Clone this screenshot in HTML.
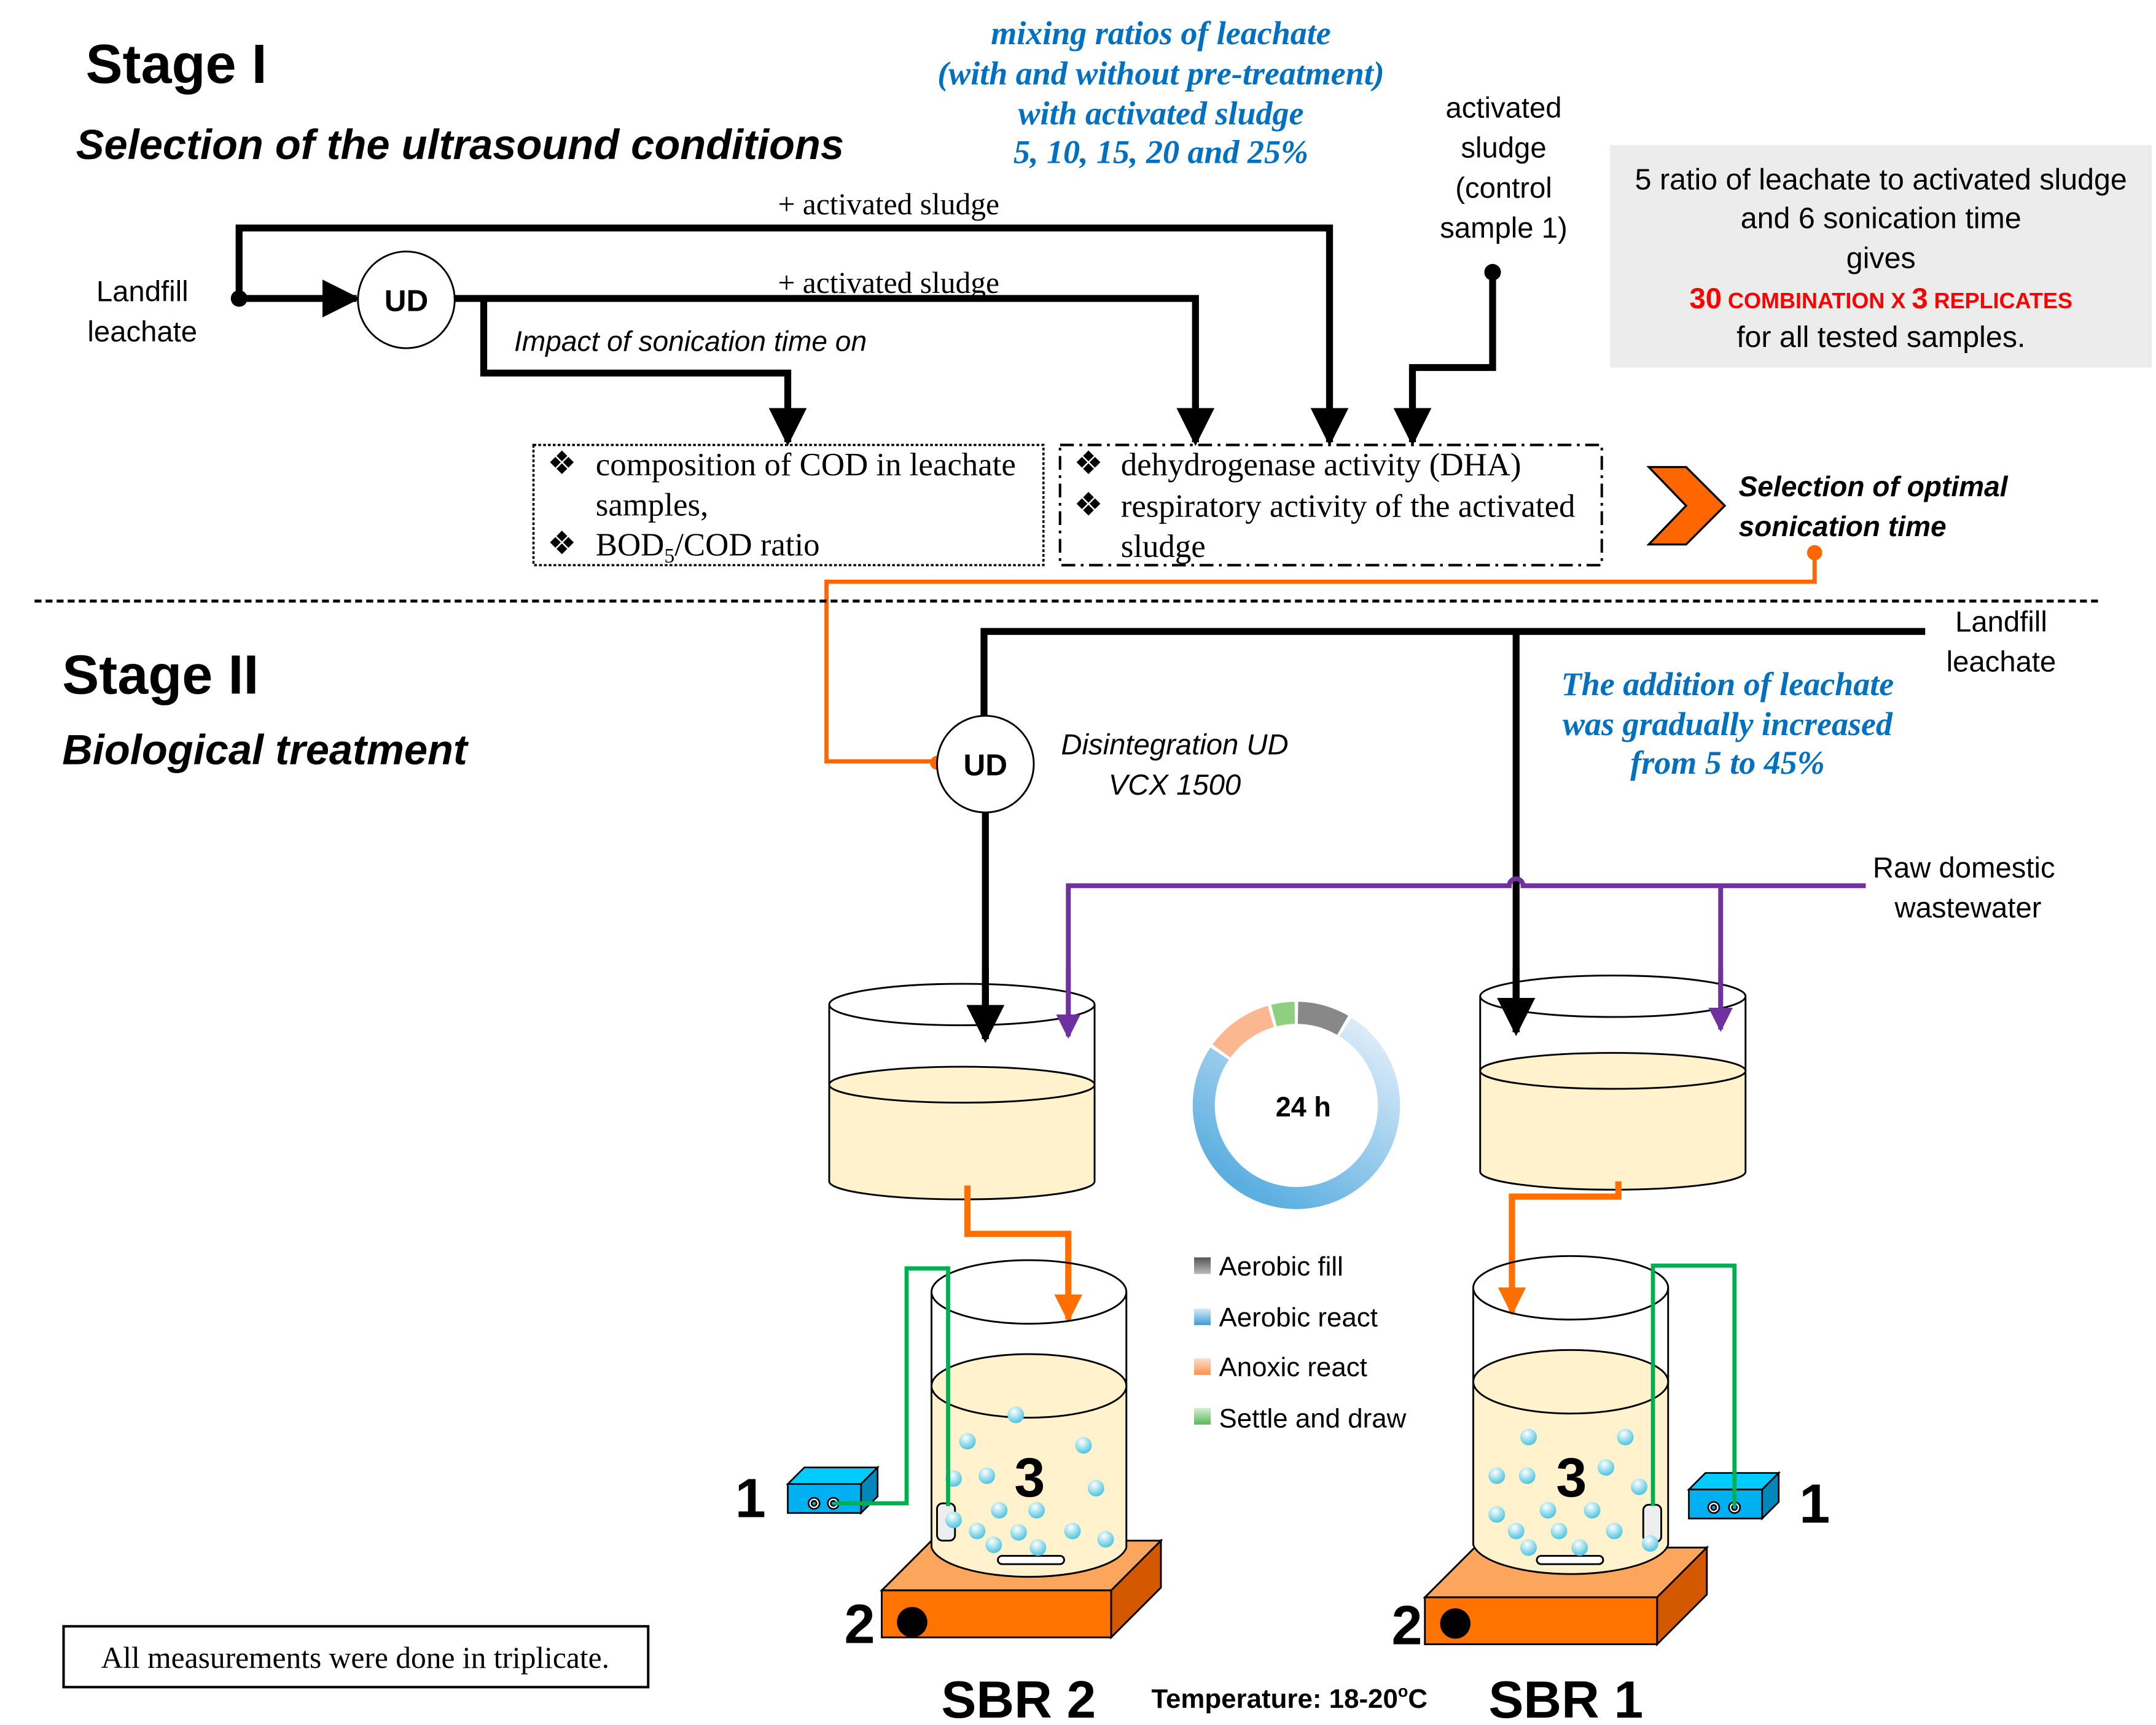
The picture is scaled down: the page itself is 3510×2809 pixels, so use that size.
<!DOCTYPE html>
<html><head><meta charset="utf-8"><style>
html,body{margin:0;padding:0;background:#fff;}
svg{display:block;}
.s{font-family:"Liberation Sans",sans-serif;}
.r{font-family:"Liberation Serif",serif;}
</style></head><body>
<svg width="3510" height="2809" viewBox="0 0 1560 1248.4" xmlns="http://www.w3.org/2000/svg">
<defs>
<marker id="ak" viewBox="0 0 10 10" refX="9" refY="5" markerWidth="5.5" markerHeight="5.5" orient="auto" markerUnits="strokeWidth"><path d="M0,0L10,5L0,10z" fill="#000"/></marker>
<marker id="ap" viewBox="0 0 10 10" refX="9" refY="5" markerWidth="5" markerHeight="5" orient="auto" markerUnits="strokeWidth"><path d="M0,0L10,5L0,10z" fill="#7030a0"/></marker>
<marker id="ao" viewBox="0 0 10 10" refX="9" refY="5" markerWidth="4.5" markerHeight="4.5" orient="auto" markerUnits="strokeWidth"><path d="M0,0L10,5L0,10z" fill="#ff6f00"/></marker>
<radialGradient id="bub" cx="0.4" cy="0.3" r="0.7"><stop offset="0" stop-color="#ffffff"/><stop offset="1" stop-color="#4cc4e0"/></radialGradient>
<linearGradient id="blu" x1="1" y1="0" x2="0.3" y2="1"><stop offset="0" stop-color="#e4f0fa"/><stop offset="1" stop-color="#5aaee0"/></linearGradient>
<linearGradient id="gg" x1="0" y1="0" x2="0" y2="1"><stop offset="0" stop-color="#555"/><stop offset="1" stop-color="#bbb"/></linearGradient>
<linearGradient id="gb" x1="0" y1="0" x2="0" y2="1"><stop offset="0" stop-color="#d8ecf8"/><stop offset="1" stop-color="#3d9ad8"/></linearGradient>
<linearGradient id="go" x1="0" y1="0" x2="0" y2="1"><stop offset="0" stop-color="#fde0cc"/><stop offset="1" stop-color="#f79050"/></linearGradient>
<linearGradient id="ggr" x1="0" y1="0" x2="0" y2="1"><stop offset="0" stop-color="#d6eed0"/><stop offset="1" stop-color="#5ab65a"/></linearGradient>
</defs>

<text x="62" y="60" class="s" font-size="40" font-weight="bold">Stage I</text>
<text x="55" y="115" class="s" font-size="30.5" font-weight="bold" font-style="italic">Selection of the ultrasound conditions</text>

<g class="r" font-size="24" font-style="italic" font-weight="bold" fill="#0070c0" text-anchor="middle">
<text x="840" y="32">mixing ratios of leachate</text>
<text x="840" y="61">(with and without pre-treatment)</text>
<text x="840" y="90">with activated sludge</text>
<text x="840" y="118">5, 10, 15, 20 and 25%</text>
</g>
<g class="s" font-size="21" text-anchor="middle">
<text x="1088" y="85">activated</text>
<text x="1088" y="114">sludge</text>
<text x="1088" y="143">(control</text>
<text x="1088" y="172">sample 1)</text>
</g>
<rect x="1165" y="105" width="392" height="161" fill="#ececec"/>
<g class="s" font-size="21.5" text-anchor="middle">
<text x="1361" y="137">5 ratio of leachate to activated sludge</text>
<text x="1361" y="165">and 6 sonication time</text>
<text x="1361" y="194">gives</text>
<text x="1361" y="223" fill="#ff0000" font-weight="bold"><tspan font-size="21">30</tspan><tspan font-size="16"> COMBINATION X </tspan><tspan font-size="21">3</tspan><tspan font-size="16"> REPLICATES</tspan></text>
<text x="1361" y="251">for all tested samples.</text>
</g>

<g class="s" font-size="21" text-anchor="middle">
<text x="103" y="218">Landfill</text>
<text x="103" y="247">leachate</text>
</g>
<g fill="none" stroke="#000" stroke-width="5">
<path d="M173,216 V165 H962 V320" marker-end="url(#ak)"/>
<path d="M173,216 H258" marker-end="url(#ak)"/>
<path d="M329,216 H865 V320" marker-end="url(#ak)"/>
<path d="M350,216 V270 H570 V320" marker-end="url(#ak)"/>
<path d="M1080,197 V266 H1022 V320" marker-end="url(#ak)"/>
</g>
<circle cx="173" cy="216" r="6"/>
<circle cx="1080" cy="197" r="6"/>
<circle cx="294" cy="217" r="35" fill="#fff" stroke="#000" stroke-width="1.3"/>
<text x="294" y="225" class="s" font-size="22" font-weight="bold" text-anchor="middle">UD</text>
<text x="643" y="155" class="r" font-size="22" text-anchor="middle">+ activated sludge</text>
<text x="643" y="212" class="r" font-size="22" text-anchor="middle">+ activated sludge</text>
<text x="372" y="254" class="s" font-size="20.5" font-style="italic">Impact of sonication time on</text>

<rect x="386" y="322" width="369" height="87" fill="none" stroke="#000" stroke-width="1.6" stroke-dasharray="2,1.5"/>
<rect x="767" y="322" width="392" height="87" fill="none" stroke="#000" stroke-width="1.8" stroke-dasharray="10,4,2,4"/>
<g class="r" font-size="23.5">
<text x="396" y="343">❖</text><text x="431" y="344">composition of COD in leachate</text>
<text x="431" y="373">samples,</text>
<text x="396" y="401">❖</text><text x="431" y="402">BOD<tspan font-size="15" dy="5">5</tspan><tspan dy="-5">/COD ratio</tspan></text>
<text x="777" y="343">❖</text><text x="811" y="344">dehydrogenase activity (DHA)</text>
<text x="777" y="373">❖</text><text x="811" y="374">respiratory activity of the activated</text>
<text x="811" y="403">sludge</text>
</g>

<path d="M1193,338 H1220 L1248,366 L1220,394 H1193 L1220,366 Z" fill="#ff6600" stroke="#000" stroke-width="1.5"/>
<g class="s" font-size="20.5" font-weight="bold" font-style="italic">
<text x="1258" y="359">Selection of optimal</text>
<text x="1258" y="388">sonication time</text>
</g>

<path d="M1313,400 V421 H598 V551 H678" fill="none" stroke="#ff6600" stroke-width="3"/>
<circle cx="1313" cy="400" r="5.5" fill="#ff6600"/>
<circle cx="678" cy="552" r="5" fill="#ff6600"/>

<line x1="25" y1="435" x2="1520" y2="435" stroke="#000" stroke-width="2.2" stroke-dasharray="5,3"/>

<text x="45" y="502" class="s" font-size="40" font-weight="bold">Stage II</text>
<text x="45" y="553" class="s" font-size="30.5" font-weight="bold" font-style="italic">Biological treatment</text>

<g fill="none" stroke="#000" stroke-width="5">
<path d="M1393,457 H712 V518"/>
<path d="M1097,457 V747" marker-end="url(#ak)"/>
<path d="M713,588 V752" marker-end="url(#ak)"/>
</g>
<g class="s" font-size="21" text-anchor="middle">
<text x="1448" y="457">Landfill</text>
<text x="1448" y="486">leachate</text>
<text x="1421" y="635">Raw domestic</text>
<text x="1424" y="664">wastewater</text>
</g>
<g class="r" font-size="24" font-style="italic" font-weight="bold" fill="#0070c0" text-anchor="middle">
<text x="1250" y="503">The addition of leachate</text>
<text x="1250" y="532">was gradually increased</text>
<text x="1250" y="560">from 5 to 45%</text>
</g>
<circle cx="713" cy="553" r="35" fill="#fff" stroke="#000" stroke-width="1.3"/>
<text x="713" y="561" class="s" font-size="22" font-weight="bold" text-anchor="middle">UD</text>
<g class="s" font-size="21" font-style="italic" text-anchor="middle">
<text x="850" y="546">Disintegration UD</text>
<text x="850" y="575">VCX 1500</text>
</g>

<g fill="none" stroke="#7030a0" stroke-width="3.5">
<path d="M1350,641 H1102 A5,5 0 0 0 1092,641 H773 V750" marker-end="url(#ap)"/>
<path d="M1245,641 V745" marker-end="url(#ap)"/>
</g>

<g stroke="#000" stroke-width="1.3">
<path d="M600,785 V855 A96,13 0 0 0 792,855 V785 Z" fill="#fff2cc"/>
<ellipse cx="696" cy="785" rx="96" ry="13" fill="#fff2cc"/>
<path d="M600,727 V785 M792,727 V785" fill="none"/>
<ellipse cx="696" cy="727" rx="96" ry="15" fill="none"/>
<path d="M1071,775 V848 A96,13 0 0 0 1263,848 V775 Z" fill="#fff2cc"/>
<ellipse cx="1167" cy="775" rx="96" ry="13" fill="#fff2cc"/>
<path d="M1071,721 V775 M1263,721 V775" fill="none"/>
<ellipse cx="1167" cy="721" rx="96" ry="15" fill="none"/>
</g>
<g fill="none" stroke="#000" stroke-width="5">
<path d="M1097,700 V747" marker-end="url(#ak)"/>
<path d="M713,700 V752" marker-end="url(#ak)"/>
</g>
<g fill="none" stroke="#7030a0" stroke-width="3.5">
<path d="M773,700 V750" marker-end="url(#ap)"/>
<path d="M1245,700 V745" marker-end="url(#ap)"/>
</g>

<g stroke-width="16" fill="none">
<path d="M973.5,743.2 A67,67 0 1 1 882.5,762.5" stroke="url(#blu)"/>
<path d="M883.8,760.6 A67,67 0 0 1 919.5,735.6" stroke="#fbb890"/>
<path d="M921.8,735 A67,67 0 0 1 936.8,733" stroke="#8fcf80"/>
<path d="M939.2,733 A67,67 0 0 1 971.5,742" stroke="#888"/>
</g>
<text x="943" y="808" class="s" font-size="20" font-weight="bold" text-anchor="middle">24 h</text>

<g class="s" font-size="19.5">
<rect x="864" y="910" width="12" height="12" fill="url(#gg)"/><text x="882" y="923">Aerobic fill</text>
<rect x="864" y="947" width="12" height="12" fill="url(#gb)"/><text x="882" y="960">Aerobic react</text>
<rect x="864" y="983" width="12" height="12" fill="url(#go)"/><text x="882" y="996">Anoxic react</text>
<rect x="864" y="1019" width="12" height="12" fill="url(#ggr)"/><text x="882" y="1033">Settle and draw</text>
</g>

<path d="M700,858 V893 H773 V955" fill="none" stroke="#ff6f00" stroke-width="4.5" marker-end="url(#ao)"/>
<path d="M1171,855 V866 H1094 V950" fill="none" stroke="#ff6f00" stroke-width="4.5" marker-end="url(#ao)"/>

<g stroke="#000" stroke-width="1.3">
<path d="M638,1151 L674,1115 H840 L804,1151 Z" fill="#fca55c"/>
<path d="M804,1151 L840,1115 V1149 L804,1185 Z" fill="#d35800"/>
<rect x="638" y="1151" width="166" height="34" fill="#ff7300"/>
</g>
<circle cx="660" cy="1174" r="11"/>
<g stroke="#000" stroke-width="1.3">
<path d="M674,1003 V1120 A71,24 0 0 0 815,1120 V1003 Z" fill="#fff2cc"/>
<ellipse cx="744.5" cy="1003" rx="70.5" ry="23" fill="#fff2cc"/>
<path d="M674,935 V1003 M815,935 V1003" fill="none"/>
<ellipse cx="744.5" cy="935" rx="70.5" ry="23" fill="none"/>
<rect x="722" y="1126" width="48" height="6" rx="3" fill="#fff"/>
<rect x="678" y="1088" width="13" height="27" rx="4" fill="#eee"/>
</g>
<text x="745" y="1083" class="s" font-size="40" font-weight="bold" text-anchor="middle">3</text>
<g fill="url(#bub)">
<circle cx="700" cy="1043" r="6"/><circle cx="735" cy="1024" r="6"/><circle cx="784" cy="1046" r="6"/>
<circle cx="690" cy="1070" r="6"/><circle cx="714" cy="1068" r="6"/><circle cx="793" cy="1077" r="6"/>
<circle cx="723" cy="1093" r="6"/><circle cx="750" cy="1093" r="6"/><circle cx="690" cy="1100" r="6"/>
<circle cx="707" cy="1108" r="6"/><circle cx="737" cy="1109" r="6"/><circle cx="776" cy="1108" r="6"/>
<circle cx="800" cy="1114" r="6"/><circle cx="719" cy="1118" r="6"/><circle cx="751" cy="1120" r="6"/>
</g>
<g stroke="#000" stroke-width="1.2">
<path d="M570,1074 L582,1062 H635 L623,1074 Z" fill="#00ccff"/>
<path d="M623,1074 L635,1062 V1083 L623,1095 Z" fill="#0088bb"/>
<rect x="570" y="1074" width="53" height="21" fill="#00b0f0"/>
<circle cx="589" cy="1088" r="4" fill="#fff"/><circle cx="589" cy="1088" r="1.8" fill="#00b0f0"/>
<circle cx="603" cy="1088" r="4" fill="#fff"/><circle cx="603" cy="1088" r="1.8" fill="#00b0f0"/>
</g>
<path d="M604,1088 H656 V918 H686 V1090" fill="none" stroke="#00b050" stroke-width="3"/>
<text x="543" y="1098" class="s" font-size="40" font-weight="bold" text-anchor="middle">1</text>
<text x="622" y="1189" class="s" font-size="40" font-weight="bold" text-anchor="middle">2</text>

<g stroke="#000" stroke-width="1.3">
<path d="M1031,1156 L1067,1120 H1235 L1199,1156 Z" fill="#fca55c"/>
<path d="M1199,1156 L1235,1120 V1154 L1199,1190 Z" fill="#d35800"/>
<rect x="1031" y="1156" width="168" height="34" fill="#ff7300"/>
</g>
<circle cx="1053" cy="1175" r="11"/>
<g stroke="#000" stroke-width="1.3">
<path d="M1066,1000 V1118 A71,24 0 0 0 1207,1118 V1000 Z" fill="#fff2cc"/>
<ellipse cx="1136.5" cy="1000" rx="70.5" ry="23" fill="#fff2cc"/>
<path d="M1066,932 V1000 M1207,932 V1000" fill="none"/>
<ellipse cx="1136.5" cy="932" rx="70.5" ry="23" fill="none"/>
<rect x="1112" y="1126" width="48" height="6" rx="3" fill="#fff"/>
<rect x="1189" y="1089" width="13" height="27" rx="4" fill="#eee"/>
</g>
<text x="1137" y="1083" class="s" font-size="40" font-weight="bold" text-anchor="middle">3</text>
<g fill="url(#bub)">
<circle cx="1106" cy="1040" r="6"/><circle cx="1176" cy="1040" r="6"/><circle cx="1162" cy="1062" r="6"/>
<circle cx="1083" cy="1068" r="6"/><circle cx="1105" cy="1068" r="6"/><circle cx="1186" cy="1076" r="6"/>
<circle cx="1083" cy="1096" r="6"/><circle cx="1120" cy="1093" r="6"/><circle cx="1152" cy="1093" r="6"/>
<circle cx="1097" cy="1108" r="6"/><circle cx="1128" cy="1108" r="6"/><circle cx="1168" cy="1108" r="6"/>
<circle cx="1106" cy="1120" r="6"/><circle cx="1143" cy="1120" r="6"/><circle cx="1194" cy="1117" r="6"/>
</g>
<g stroke="#000" stroke-width="1.2">
<path d="M1222,1078 L1234,1066 H1287 L1275,1078 Z" fill="#00ccff"/>
<path d="M1275,1078 L1287,1066 V1087 L1275,1099 Z" fill="#0088bb"/>
<rect x="1222" y="1078" width="53" height="21" fill="#00b0f0"/>
<circle cx="1240" cy="1091" r="4" fill="#fff"/><circle cx="1240" cy="1091" r="1.8" fill="#00b0f0"/>
<circle cx="1255" cy="1091" r="4" fill="#fff"/><circle cx="1255" cy="1091" r="1.8" fill="#00b0f0"/>
</g>
<path d="M1255,1090 V916 H1196 V1090" fill="none" stroke="#00b050" stroke-width="3"/>
<text x="1313" y="1102" class="s" font-size="40" font-weight="bold" text-anchor="middle">1</text>
<text x="1018" y="1190" class="s" font-size="40" font-weight="bold" text-anchor="middle">2</text>

<g class="s" font-weight="bold" text-anchor="middle">
<text x="737" y="1243" font-size="38">SBR 2</text>
<text x="1133" y="1243" font-size="38">SBR 1</text>
<text x="933" y="1236" font-size="19.5">Temperature: 18-20<tspan font-size="12" dy="-8">o</tspan><tspan dy="8">C</tspan></text>
</g>

<rect x="46" y="1177" width="423" height="44" fill="none" stroke="#000" stroke-width="1.8"/>
<text x="257" y="1207" class="r" font-size="22" text-anchor="middle">All measurements were done in triplicate.</text>
</svg>
</body></html>
